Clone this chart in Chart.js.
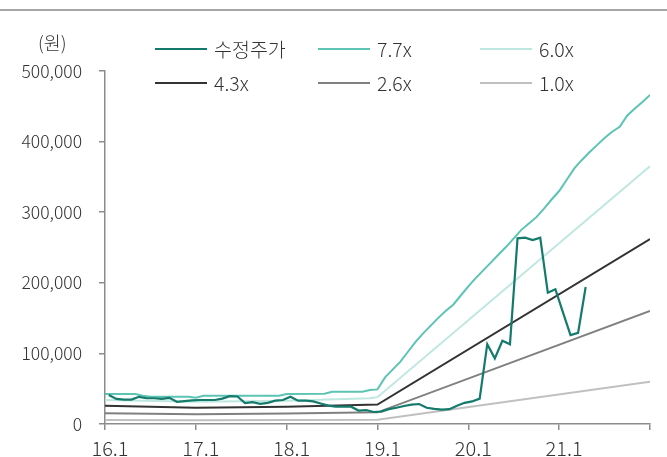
<!DOCTYPE html>
<html>
<head>
<meta charset="utf-8">
<script src="https://cdn.jsdelivr.net/npm/chart.js@4.4.1/dist/chart.umd.min.js"></script>
<style>
  html, body { margin: 0; padding: 0; background: #fff; }
  #wrap { position: relative; width: 667px; height: 457px; overflow: hidden;
          font-family: "Noto Sans CJK KR", "Noto Sans", sans-serif; font-weight: 300; color: #333; }
  #topline { position: absolute; left: 0; top: 9px; width: 667px; height: 2px; background: #a6a6a6; }
  #unit { position: absolute; left: 38px; top: 31px; font-size: 18.5px; line-height: 22px; }
  .leg { position: absolute; display: flex; align-items: center; font-size: 19.5px;
         line-height: 22px; white-space: nowrap; }
  .leg i { display: inline-block; width: 52px; height: 2px; margin-right: 7px; }
  canvas { position: absolute; left: 0; top: 0; }
</style>
</head>
<body>
<div id="wrap">
  <div id="topline"></div>
  <canvas id="c" width="667" height="457"></canvas>
  <div id="unit">(원)</div>
  <div id="legend"></div>
</div>
<script>
// x positions are months counted from 2016.01
const tickLabels = ['16.1', '17.1', '18.1', '19.1', '20.1', '21.1'];

// monthly adjusted share price (원), 2016.01 - 2021.04
const priceMonthly = [
  41000, 35500, 34500, 34500, 38500, 36500, 36500, 35500, 37000, 31500, 32500, 33500,
  34000, 34000, 34000, 36000, 39500, 39000, 29500, 31000, 28500, 30000, 33000, 34000,
  38500, 33000, 33000, 32000, 29000, 26000, 24500, 24500, 24500, 19000, 19800, 17000,
  17500, 21000, 23000, 25500, 27500, 28300, 23000, 21500, 20500, 21000, 26000, 30000,
  32000, 36000, 113000, 93000, 118000, 113000, 263000, 264000, 260500, 264000, 186000, 191000,
  158000, 126000, 129000, 194000
];

// PER band lines: month index and value
const band77Months = [0, 4, 5, 6, 11, 12, 13, 23, 24, 29, 30, 34, 35, 36,
  37, 38, 39, 40, 41, 42, 43, 44, 45, 46, 47, 48, 49, 50, 51, 52, 53, 54,
  55, 56, 57, 58, 59, 60, 61, 62, 63, 64, 65, 66, 67, 68, 69, 70, 71, 72];
const band77Values = [42500, 42500, 40000, 38700, 38700, 37300, 40000, 40000, 42500, 43000, 45800, 45800, 48000, 49000,
  66000, 77000, 88000, 102000, 116000, 128000, 139000, 150000, 160000, 169000, 182000, 195000, 207000, 218000,
  229000, 240000, 251000, 263000, 275000, 284000, 293000, 305000, 318000, 330000, 346000, 362000, 374000,
  385000, 395000, 405000, 414000, 421000, 437000, 447000, 456000, 466000];

const band60Months = [0, 12, 24, 35, 36, 72];
const band60Values = [34000, 31600, 33000, 36400, 38000, 365000];

const band43Months = [0, 12, 24, 36, 72];
const band43Values = [26000, 23000, 24500, 27500, 262000];

const band26Months = [0, 12, 24, 36, 72];
const band26Values = [15200, 13700, 15000, 16500, 160000];

const band10Months = [0, 12, 24, 36, 72];
const band10Values = [5700, 5200, 5700, 6000, 60000];

const seriesNames = ['수정주가', '7.7x', '6.0x', '4.3x', '2.6x', '1.0x'];
const seriesColors = ['#137a6c', '#5cc4b4', '#bde7df', '#333333', '#808080', '#c0c0c0'];

const toPoints = (months, values) => months.map((m, i) => ({ x: m, y: values[i] }));
const pricePoints = priceMonthly.map((v, i) => ({ x: i + 0.5, y: v }));

const seriesData = [
  pricePoints,
  toPoints(band77Months, band77Values),
  toPoints(band60Months, band60Values),
  toPoints(band43Months, band43Values),
  toPoints(band26Months, band26Values),
  toPoints(band10Months, band10Values)
];

Chart.defaults.font.family = '"Noto Sans CJK KR", "Noto Sans", sans-serif';
Chart.defaults.font.weight = '300';
Chart.defaults.color = '#333';

const axisColor = '#8c8c8c';

new Chart(document.getElementById('c'), {
  type: 'line',
  data: {
    datasets: seriesNames.map((name, i) => ({
      label: name,
      data: seriesData[i],
      borderColor: seriesColors[i],
      backgroundColor: seriesColors[i],
      borderWidth: i === 0 ? 2.2 : 2,
      pointRadius: 0,
      tension: 0,
      fill: false
    }))
  },
  options: {
    responsive: false,
    animation: false,
    devicePixelRatio: 1,
    layout: { padding: { top: 71, right: 17, left: 0, bottom: 0 } },
    plugins: { legend: { display: false }, tooltip: { enabled: false } },
    scales: {
      x: {
        type: 'linear',
        min: 0, max: 72,
        afterFit: (s) => { s.height = 33; },
        ticks: {
          stepSize: 12,
          autoSkip: false,
          maxRotation: 0,
          padding: 6,
          labelOffset: 5,
          font: { size: 20, weight: '300' },
          color: '#333',
          callback: (v) => tickLabels[Math.round(v / 12)] ?? ''
        },
        grid: { display: true, drawOnChartArea: false, drawTicks: true, tickLength: 6, color: axisColor, lineWidth: 1.5 },
        border: { display: true, color: axisColor, width: 1.5 }
      },
      y: {
        min: 0, max: 500000,
        afterFit: (s) => { s.width = 105; },
        ticks: {
          stepSize: 100000,
          padding: 17,
          font: { size: 17.5, weight: '300' },
          color: '#333',
          callback: (v) => v.toLocaleString('en-US')
        },
        grid: { display: true, drawOnChartArea: false, drawTicks: true, tickLength: 6, color: axisColor, lineWidth: 1.5 },
        border: { display: true, color: axisColor, width: 1.5 }
      }
    }
  }
});

// legend: 3 columns x 2 rows
const legendCols = [155, 318, 480];
const legendRows = [49, 83];
const legendBox = document.getElementById('legend');
seriesNames.forEach((name, i) => {
  const item = document.createElement('div');
  item.className = 'leg';
  item.style.left = legendCols[i % 3] + 'px';
  item.style.top = (legendRows[Math.floor(i / 3)] - 11) + 'px';
  const sw = document.createElement('i');
  sw.style.background = seriesColors[i];
  item.appendChild(sw);
  item.appendChild(document.createTextNode(name));
  legendBox.appendChild(item);
});
</script>
</body>
</html>
